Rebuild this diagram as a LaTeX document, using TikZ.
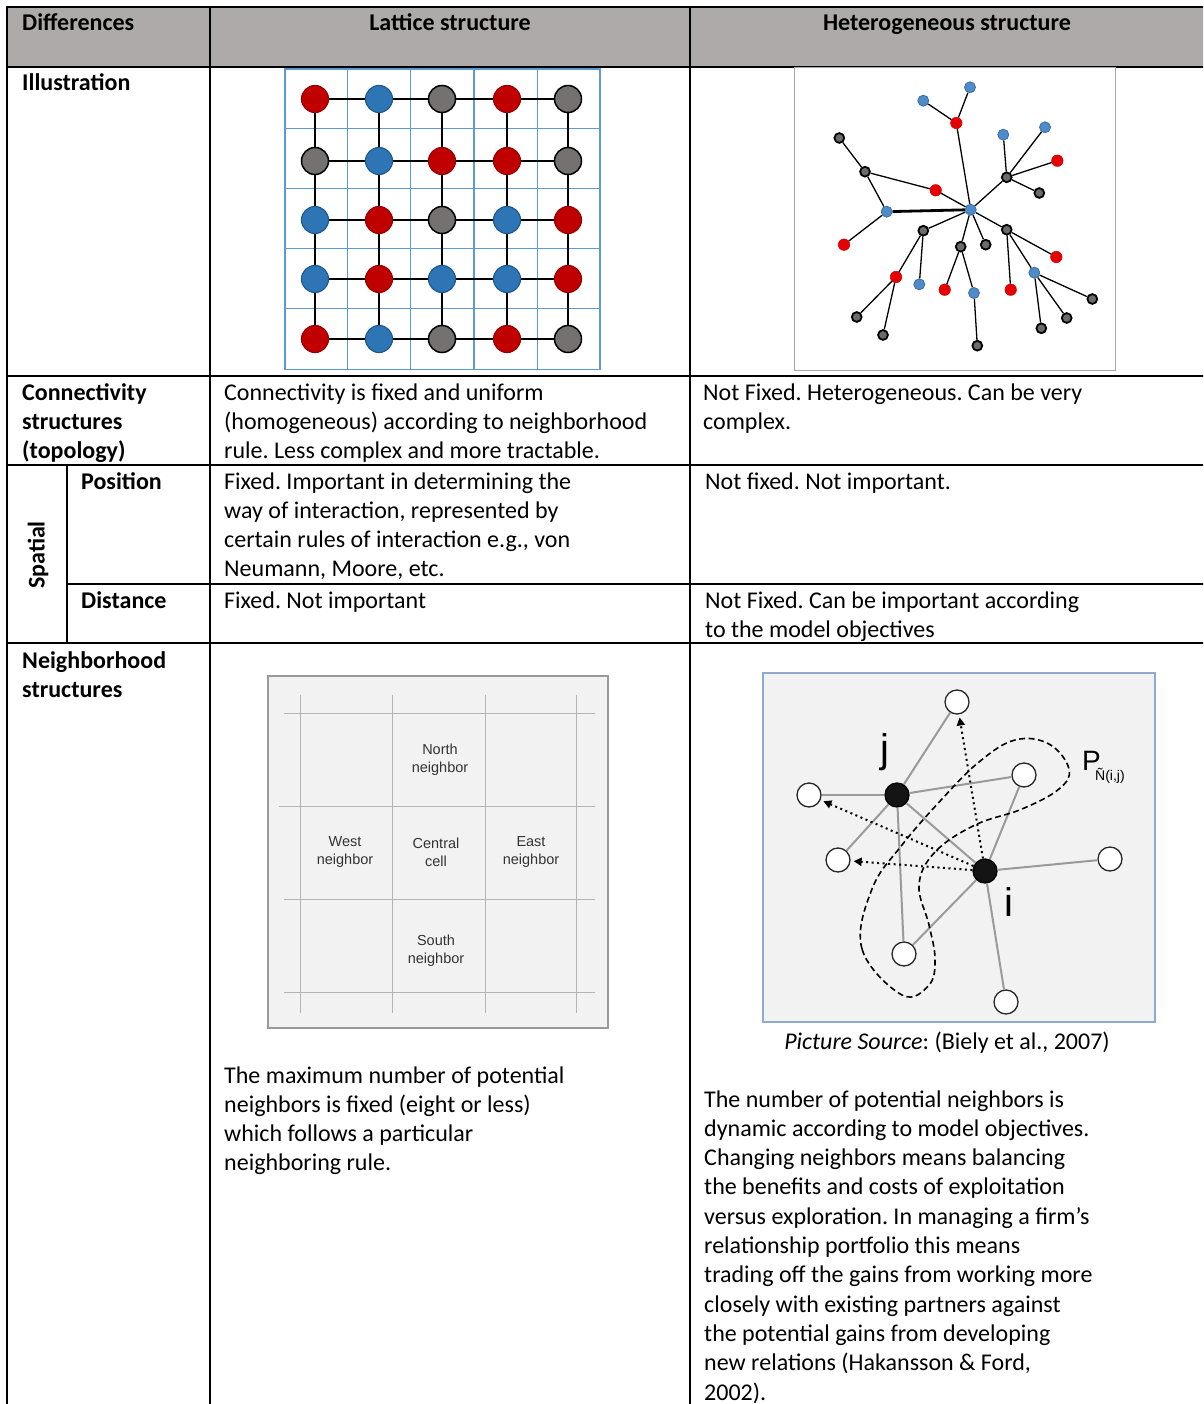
\documentclass[tikz,border=0pt]{standalone}
\usepackage{fontspec}
\setmainfont{Carlito}
\newfontfamily\arialfont{Liberation Sans}
\usetikzlibrary{arrows.meta}
\frenchspacing

\definecolor{hdrgray}{HTML}{AEAAAA}
\definecolor{gridblue}{HTML}{5B9BD5}
\definecolor{latred}{HTML}{C00000}
\definecolor{latreddark}{HTML}{9A0000}
\definecolor{latblue}{HTML}{2E75B6}
\definecolor{latbluedark}{HTML}{1F5A8F}
\definecolor{latgray}{HTML}{767171}
\definecolor{netblue}{HTML}{4F8BC8}
\definecolor{netbluedark}{HTML}{3A6FA6}
\definecolor{netred}{HTML}{E80000}
\definecolor{netgray}{HTML}{6B6B6B}
\definecolor{panelgray}{HTML}{F2F2F2}
\definecolor{panelblue}{HTML}{8FAACC}
\definecolor{thingray}{HTML}{B4B4B4}
\definecolor{linkgray}{HTML}{9A9A9A}
\definecolor{labelgray}{HTML}{333333}

\newcommand\cellfont{\fontsize{24}{29.3}\selectfont}
\newcommand\smallsans{\arialfont\fontsize{14.5}{18}\selectfont}

% multi-line nodes are placed by the baseline of their last line
\tikzset{
  tabline/.style={line width=2pt, black},
  celltext/.style={anchor=base west, inner sep=0pt, align=left, font=\cellfont},
  headtext/.style={anchor=base, inner sep=0pt, font=\cellfont\bfseries},
  rowhead/.style={anchor=base west, inner sep=0pt, align=left, font=\cellfont\bfseries},
  % lattice
  latgrid/.style={gridblue, line width=1.8pt},
  latnode/.style={circle, minimum size=27pt, inner sep=0pt, line width=1.2pt},
  latR/.style={latnode, fill=latred, draw=latreddark},
  latB/.style={latnode, fill=latblue, draw=latbluedark},
  latG/.style={latnode, fill=latgray, draw=black, line width=1.5pt},
  latedge/.style={black, line width=2pt},
  % free network
  netnode/.style={circle, inner sep=0pt},
  hB/.style={netnode, minimum size=11pt, fill=netblue, draw=netbluedark, line width=0.8pt},
  hR/.style={netnode, minimum size=11.5pt, fill=netred, draw=netred!85!black, line width=0.5pt},
  hK/.style={netnode, minimum size=9.8pt, fill=netgray, draw=black, line width=1.8pt},
  netedge/.style={black, line width=1.3pt},
  % neighbour panels
  cellgrid/.style={thingray, line width=1pt},
  celllabel/.style={align=center, inner sep=0pt, font=\smallsans, text=labelgray},
  openv/.style={circle, minimum size=24pt, inner sep=0pt, fill=white, draw=black!85, line width=1.3pt},
  fullv/.style={circle, minimum size=24pt, inner sep=0pt, fill=black!92, draw=black, line width=1.3pt},
  tie/.style={linkgray, line width=2pt},
  probe/.style={black, line width=2pt, dash pattern=on 2pt off 3.5pt,
    -{Triangle[length=8pt,width=8pt]}, shorten >=3pt},
  reach/.style={black, line width=1.6pt, dash pattern=on 6pt off 3.5pt},
}

\begin{document}
\begin{tikzpicture}[x=1pt,y=-1pt]
\useasboundingbox (0,0) rectangle (1203,1404);
\clip (0,0) rectangle (1203,1404);

% ---------- table frame ----------
\fill[hdrgray] (7,7) rectangle (1210,67);
\draw[tabline] (7,7) -- (1210,7);
\draw[tabline] (7,67) -- (1210,67);
\draw[tabline] (7,376) -- (1210,376);
\draw[tabline] (7,465) -- (1210,465);
\draw[tabline] (67,584) -- (1210,584);
\draw[tabline] (7,643) -- (1210,643);
\draw[tabline] (7,6) -- (7,1410);
\draw[tabline] (210,6) -- (210,1410);
\draw[tabline] (690,6) -- (690,1410);
\draw[tabline] (67,465) -- (67,643);

% ---------- header ----------
\node[headtext, anchor=base west] (hdiff) at (22,31) {Differences};
\node[headtext] (hlat) at (450,31) {Lattice structure};
\node[headtext] (hhet) at (947,31) {Heterogeneous structure};

% ---------- row headings ----------
\node[rowhead] (rillu) at (22,91) {Illustration};
\node[rowhead] (rconn) at (22,458.6) {Connectivity\\structures\\(topology)};
\node[rowhead, rotate=90, anchor=center] (rspat) at (38,555) {Spatial};
\node[rowhead] (rpos) at (81,489) {Position};
\node[rowhead] (rdist) at (81,608) {Distance};
\node[rowhead] (rneigh) at (22,697.3) {Neighborhood\\structures};

% ---------- lattice column text ----------
\node[celltext] (tconnL) at (224,458.6) {Connectivity is fixed and uniform\\(homogeneous) according to neighborhood\\rule. Less complex and more tractable.};
\node[celltext] (tposL) at (224,576.9) {Fixed. Important in determining the\\way of interaction, represented by\\certain rules of interaction e.g., von\\Neumann, Moore, etc.};
\node[celltext] (tdistL) at (224,608) {Fixed. Not important};
\node[celltext] (tneighL) at (224,1170.9) {The maximum number of potential\\neighbors is fixed (eight or less)\\which follows a particular\\neighboring rule.};

% ---------- heterogeneous column text ----------
\node[celltext] (tconnH) at (703,429.3) {Not Fixed. Heterogeneous. Can be very\\complex.};
\node[celltext] (tposH) at (705,489) {Not fixed. Not important.};
\node[celltext] (tdistH) at (705,637.3) {Not Fixed. Can be important according\\to the model objectives};
\node[anchor=base, inner sep=0pt, font=\cellfont] (tsrc) at (947,1049) {\textit{Picture Source}: (Biely et al., 2007)};
\node[celltext] (tneighH) at (704,1400) {The number of potential neighbors is\\dynamic according to model objectives.\\Changing neighbors means balancing\\the benefits and costs of exploitation\\versus exploration. In managing a firm’s\\relationship portfolio this means\\trading off the gains from working more\\closely with existing partners against\\the potential gains from developing\\new relations (Hakansson \& Ford,\\2002).};

% ---------- lattice illustration ----------
\foreach \gx in {285,347.5,410.5,474,537.5,600}
  \draw[latgrid] (\gx,68.5) -- (\gx,370);
\foreach \gy in {69,128.5,188.5,248.5,308.5,369.5}
  \draw[latgrid] (284.5,\gy) -- (600.5,\gy);

\foreach \r/\yy/\cols in {1/99/{R,B,G,R,G}, 2/161/{G,B,R,R,G}, 3/220/{B,R,G,B,R}, 4/279/{B,R,B,B,R}, 5/339/{R,B,G,R,G}}{
  \foreach \c [count=\k] in \cols {
    \pgfmathsetmacro\xx{{315,379,442,507,568}[\k-1]}
    \node[lat\c] (L\r-\k) at (\xx,\yy) {};
  }
}
\foreach \r in {1,...,5}{
  \foreach \k [evaluate=\k as \kn using int(\k+1)] in {1,...,4}{
    \draw[latedge] (L\r-\k) -- (L\r-\kn);
    \draw[latedge] (L\k-\r) -- (L\kn-\r);
  }
}

% ---------- free network illustration ----------
\draw[black!35, line width=1pt] (794,68) rectangle (1115,370);
\node[hB] (b1) at (970,87.3) {};
\node[hB] (b2) at (923.3,100.7) {};
\node[hR] (r1) at (956.3,123) {};
\node[hK] (k1) at (839.3,138) {};
\node[hB] (b3) at (1003.3,134.7) {};
\node[hB] (b4) at (1045,127.3) {};
\node[hR] (r2) at (1057.3,160.7) {};
\node[hK] (k2) at (865,171.7) {};
\node[hK] (k3) at (1006.7,177.3) {};
\node[hR] (r3) at (935.7,190.3) {};
\node[hK] (k4) at (1039.3,193) {};
\node[hB] (b5) at (886.7,211.7) {};
\node[hB] (c) at (970.7,209.7) {};
\node[hK] (k5) at (923.3,230.7) {};
\node[hK] (k6) at (1006.7,229.7) {};
\node[hR] (r4) at (844,244.7) {};
\node[hK] (k7) at (960.7,246.7) {};
\node[hK] (k8) at (985.7,244.7) {};
\node[hR] (r5) at (1056.3,257) {};
\node[hB] (b6) at (1034.3,272.7) {};
\node[hR] (r6) at (896,277) {};
\node[hB] (b7) at (919.3,284.3) {};
\node[hR] (r7) at (944.7,289.7) {};
\node[hB] (b8) at (974,293) {};
\node[hR] (r8) at (1010.7,289.7) {};
\node[hK] (k9) at (1092.3,299) {};
\node[hK] (k10) at (856.7,317) {};
\node[hK] (k11) at (1066.7,318) {};
\node[hK] (k12) at (1041.3,328.3) {};
\node[hK] (k13) at (883,335) {};
\node[hK] (k14) at (977.3,345.7) {};

\foreach \a/\b in {r1/b1, r1/b2, r1/c, k1/k2, k2/r3, k2/b5, r3/c, b5/r4,
  c/k3, k3/b3, k3/b4, k3/r2, k3/k4, c/k5, k5/r6, k5/b7, r6/k10, r6/k13,
  c/k7, k7/r7, k7/b8, b8/k14, c/k8, c/k6, k6/r5, k6/r8, k6/b6,
  b6/k9, b6/k11, b6/k12}
  \draw[netedge] (\a) -- (\b);
\draw[black, line width=2.8pt] (b5) -- (c);

% ---------- von Neumann neighbourhood panel ----------
\draw[fill=panelgray, draw=black!40, line width=1.5pt] (268,676) rectangle (608,1028);
\foreach \gx in {300,392,485,576}
  \draw[cellgrid] (\gx,695) -- (\gx,1013);
\draw[cellgrid] (284,713) -- (595,713);
\draw[cellgrid] (279,806) -- (595,806);
\draw[cellgrid] (284,899) -- (595,899);
\draw[cellgrid] (284,992) -- (595,992);
\node[celllabel] (north) at (440,760) {North\\neighbor};
\node[celllabel] (west) at (345,852) {West\\neighbor};
\node[celllabel] (central) at (436,852) {Central\\cell};
\node[celllabel] (east) at (531,852) {East\\neighbor};
\node[celllabel] (south) at (436,951) {South\\neighbor};

% ---------- free neighbourhood panel ----------
\draw[fill=panelgray, draw=panelblue, line width=1.5pt] (763,673) rectangle (1155,1022);
\node[openv] (o1) at (957,702) {};
\node[openv] (o2) at (1024,775) {};
\node[openv] (o3) at (809,795) {};
\node[fullv] (vj) at (897,795) {};
\node[openv] (o4) at (838,860) {};
\node[fullv] (vi) at (985,871) {};
\node[openv] (o5) at (1110,859) {};
\node[openv] (o6) at (904,954) {};
\node[openv] (o7) at (1006,1002) {};

\foreach \a/\b in {vj/o1, vj/o2, vj/o3, vj/o4, vj/o6, vj/vi, vi/o2, vi/o5, vi/o6, vi/o7}
  \draw[tie] (\a) -- (\b);

\draw[reach] plot[smooth cycle, tension=0.65] coordinates {
  (902,995) (862,949) (872,889) (902,845) (942,799) (979,762) (1015,740)
  (1049,744) (1069,769) (1059,789) (1022,809) (975,825) (935,852)
  (919,885) (929,925) (935,959) (929,985)};

\draw[probe] (vi) -- (o1);
\draw[probe] (vi) -- (o3);
\draw[probe] (vi) -- (o4);

\node[inner sep=0pt, font=\arialfont\fontsize{40}{40}\selectfont] (lj) at (885,752) {j};
\node[inner sep=0pt, font=\arialfont\fontsize{40}{40}\selectfont] (li) at (1009,902) {i};
\node[anchor=base west, inner sep=0pt, font=\arialfont\fontsize{28}{28}\selectfont] (lp) at (1082,770) {P};
\node[anchor=base west, inner sep=0pt, font=\arialfont\fontsize{14}{14}\selectfont] (lsub) at (1095,780) {Ñ(i,j)};

\end{tikzpicture}
\end{document}
